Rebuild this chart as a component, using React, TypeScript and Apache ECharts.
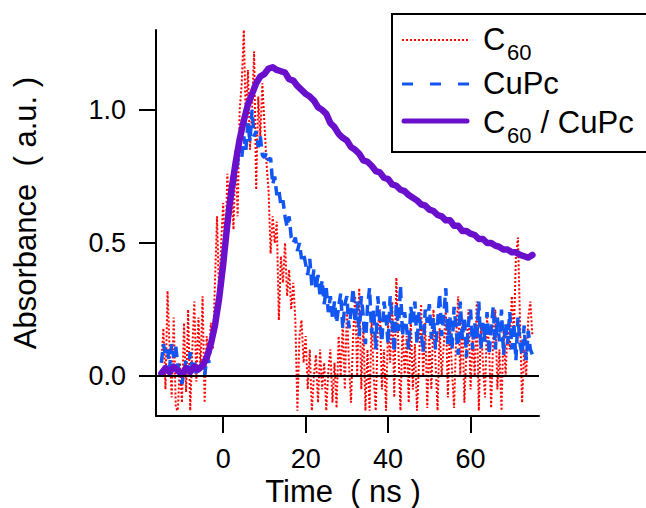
import React, { useEffect, useRef } from "react";
import * as echarts from "echarts";

// time axis sampling (ns)
const timeStart = -15;
const fastStep = 0.5;
const slowStep = 1;

// C60 (red dotted), sampled every 0.5 ns from -15 ns
const c60Values = [
  0.05, 0.18, -0.05, 0.32, 0.1, -0.08, 0.22, -0.12, -0.13, 0.05,
  -0.1, 0.2, -0.06, 0.25, -0.13, 0.1, 0.28, -0.02, 0.22, 0.02,
  0.3, -0.1, 0.15, 0.05, 0.2, 0.1, 0.35, 0.6, 0.3, 0.5,
  0.65, 0.45, 0.76, 0.62, 0.72, 0.55, 0.85, 0.6, 1.0, 1.1,
  1.3, 0.95, 1.15, 0.85, 1.0, 1.22, 0.7, 1.05, 0.9, 1.1,
  0.95, 0.8, 0.7, 0.46, 0.6, 0.5, 0.58, 0.21, 0.45, 0.35,
  0.5, 0.3, 0.4, 0.25, 0.35, 0.21, -0.13, 0.15, 0.21, 0.05,
  0.15, -0.05, 0.1, -0.13, 0.0, 0.08, -0.1, 0.1, -0.05, 0.05,
  -0.13, 0.02, 0.1, -0.1, 0.05, -0.12, 0.15, 0.0, 0.2, -0.05,
  0.25, 0.05, -0.1, 0.15, 0.3, 0.0, 0.33, -0.05, 0.2, -0.13,
  0.1, -0.13, 0.22, 0.0, -0.13, 0.18, 0.25, -0.05, 0.1, -0.13,
  0.2, 0.05, 0.28, -0.08, 0.37, 0.1, -0.13, 0.2, 0.0, 0.15,
  -0.1, 0.22, -0.05, 0.12, -0.13, 0.05, 0.27, 0.0, 0.2, -0.12,
  0.15, -0.05, 0.25, 0.05, -0.13, 0.18, 0.0, 0.12, 0.25, -0.08,
  0.2, 0.02, -0.12, 0.15, 0.3, 0.0, 0.22, -0.1, 0.1, 0.25,
  -0.05, 0.15, 0.0, 0.28, -0.13, 0.2, 0.05, -0.08, 0.22, 0.1,
  -0.12, 0.15, 0.25, -0.05, 0.1, -0.13, 0.18, 0.0, 0.2, 0.1,
  0.3, 0.15, 0.45, 0.52, 0.2, -0.1, 0.1, 0.0, 0.22, 0.28,
  0.15,
];

// CuPc (blue dashed), sampled every 0.5 ns from -15 ns
const cupcValues = [
  0.05, 0.12, 0.08, 0.1, 0.03, 0.12, 0.07, 0.11, 0.04, 0.0,
  -0.03, 0.02, 0.06, 0.02, 0.09, 0.03, 0.06, 0.0, 0.04, 0.02,
  0.05, 0.0, 0.07, 0.05, 0.12, 0.16, 0.2, 0.25, 0.3, 0.36,
  0.42, 0.5, 0.55, 0.6, 0.66, 0.7, 0.76, 0.8, 0.86, 0.82,
  0.9, 0.85, 0.95, 0.88, 1.0, 0.9, 0.92, 0.86, 0.9, 0.83,
  0.82, 0.84, 0.81, 0.82, 0.72, 0.75, 0.68, 0.7, 0.64, 0.66,
  0.6, 0.56, 0.6, 0.52, 0.5, 0.52, 0.47, 0.5, 0.44, 0.46,
  0.42, 0.38, 0.44, 0.34, 0.4, 0.33, 0.38, 0.3, 0.36, 0.27,
  0.33, 0.24, 0.3, 0.22, 0.28, 0.2, 0.26, 0.31, 0.18, 0.27,
  0.3, 0.18, 0.24, 0.33, 0.2, 0.28, 0.15, 0.3, 0.22, 0.12,
  0.26, 0.33, 0.16, 0.25, 0.1, 0.3, 0.2, 0.13, 0.28, 0.22,
  0.12, 0.3, 0.2, 0.09, 0.27, 0.17, 0.34, 0.15, 0.24, 0.18,
  0.1, 0.26, 0.2, 0.28, 0.12, 0.24, 0.17, 0.09, 0.25, 0.2,
  0.27, 0.14, 0.22, 0.1, 0.2, 0.31, 0.15, 0.23, 0.33, 0.12,
  0.22, 0.1, 0.26, 0.18, 0.08, 0.28, 0.14, 0.22, 0.07, 0.2,
  0.25, 0.1, 0.2, 0.14, 0.28, 0.1, 0.2, 0.13, 0.24, 0.08,
  0.18, 0.26, 0.1, 0.22, 0.13, 0.25, 0.08, 0.2, 0.12, 0.24,
  0.1, 0.2, 0.06, 0.22, 0.12, 0.08, 0.19, 0.06, 0.17, 0.1,
  0.08,
];

// C60 / CuPc (purple solid), sampled every 1 ns from -15 ns
const blendValues = [
  0.01, 0.03, 0.015, 0.035, 0.02, 0.005, 0.03, 0.015, 0.035, 0.025,
  0.04, 0.07, 0.12, 0.19, 0.29, 0.42, 0.57, 0.7, 0.8, 0.89,
  0.96, 1.02, 1.06, 1.1, 1.125, 1.135, 1.155, 1.16, 1.15, 1.145,
  1.14, 1.115, 1.11, 1.09, 1.075, 1.06, 1.05, 1.035, 1.01, 1.0,
  0.985, 0.95, 0.935, 0.91, 0.895, 0.885, 0.86, 0.85, 0.835, 0.81,
  0.805, 0.79, 0.77, 0.765, 0.745, 0.74, 0.72, 0.715, 0.7, 0.695,
  0.68, 0.67, 0.66, 0.645, 0.64, 0.625, 0.62, 0.605, 0.6, 0.585,
  0.585, 0.565, 0.565, 0.545, 0.545, 0.535, 0.53, 0.515, 0.515, 0.5,
  0.5, 0.49, 0.485, 0.475, 0.475, 0.465, 0.465, 0.455, 0.45, 0.445,
  0.455,
];

const xTickValues = [0, 20, 40, 60];
const yTickValues = [0, 0.5, 1.0];

const RED = "#ff0000";
const BLUE = "#1155f2";
const PURPLE = "#6a0fcc";

export default function App() {
  const ref = useRef<HTMLDivElement>(null);
  useEffect(() => {
    const chart = echarts.init(ref.current!, null, { renderer: "svg" });
    const font = "'Liberation Sans', Arial, Helvetica, sans-serif";
    const toPairs = (vals: number[], step: number) =>
      vals.map((v, i) => [timeStart + i * step, v]);

    const txt = (text: string, x: number, y: number, size: number) => ({
      type: "text",
      x,
      y,
      z: 100,
      style: {
        text,
        fontSize: size,
        fontFamily: font,
        fill: "#000",
        textAlign: "left",
        textVerticalAlign: "middle",
      },
    });

    chart.setOption({
      animation: false,
      backgroundColor: "#fff",
      grid: { left: 156, right: 107, top: 30, bottom: 92 },
      xAxis: {
        type: "value",
        min: -16.3,
        max: 76.6,
        axisLine: { show: true, onZero: false, lineStyle: { color: "#000", width: 2 } },
        axisTick: {
          show: true,
          inside: false,
          length: 17,
          customValues: xTickValues,
          lineStyle: { color: "#000", width: 2 },
        },
        axisLabel: {
          customValues: xTickValues,
          margin: 29,
          fontSize: 27,
          fontFamily: font,
          color: "#000",
        },
        splitLine: { show: false },
      },
      yAxis: {
        type: "value",
        min: -0.15,
        max: 1.3,
        axisLine: { show: true, onZero: false, lineStyle: { color: "#000", width: 2 } },
        axisTick: {
          show: true,
          inside: false,
          length: 17,
          customValues: yTickValues,
          lineStyle: { color: "#000", width: 2 },
        },
        axisLabel: {
          customValues: yTickValues,
          margin: 30,
          fontSize: 27,
          fontFamily: font,
          color: "#000",
          formatter: (v: number) => v.toFixed(1),
        },
        splitLine: { show: false },
      },
      series: [
        {
          name: "C60",
          type: "line",
          data: toPairs(c60Values, fastStep),
          showSymbol: false,
          symbol: "none",
          lineStyle: { color: RED, width: 2, type: [2, 2] },
          z: 2,
        },
        {
          name: "CuPc",
          type: "line",
          data: toPairs(cupcValues, fastStep),
          showSymbol: false,
          symbol: "none",
          lineStyle: { color: BLUE, width: 3.5, type: [11, 6] },
          z: 3,
        },
        {
          name: "C60 / CuPc",
          type: "line",
          data: toPairs(blendValues, slowStep),
          showSymbol: false,
          symbol: "none",
          lineStyle: { color: PURPLE, width: 6.5, cap: "round", join: "round" },
          z: 4,
          markLine: {
            silent: true,
            symbol: "none",
            label: { show: false },
            lineStyle: { color: "#000", width: 2, type: "solid" },
            data: [{ yAxis: 0 }],
          },
        },
      ],
      graphic: [
        {
          type: "rect",
          z: 90,
          shape: { x: 392, y: 14, width: 300, height: 138 },
          style: { fill: "#fff", stroke: "#000", lineWidth: 2 },
        },
        {
          type: "line",
          z: 95,
          shape: { x1: 402, y1: 40, x2: 469, y2: 40 },
          style: { stroke: RED, lineWidth: 2, lineDash: [2, 2] },
        },
        {
          type: "line",
          z: 95,
          shape: { x1: 402, y1: 84, x2: 469, y2: 84 },
          style: { stroke: BLUE, lineWidth: 3, lineDash: [11, 17] },
        },
        {
          type: "line",
          z: 95,
          shape: { x1: 404, y1: 121, x2: 467, y2: 121 },
          style: { stroke: PURPLE, lineWidth: 5, lineCap: "round" },
        },
        txt("C", 483, 39, 31),
        txt("60", 507, 52, 22),
        txt("CuPc", 483, 83, 31),
        txt("C", 483, 122, 31),
        txt("60", 507, 135, 22),
        txt(" / CuPc", 532, 122, 31),
        {
          type: "text",
          x: 343,
          y: 491,
          z: 100,
          style: {
            text: "Time  ( ns )",
            fontSize: 31,
            fontFamily: font,
            fill: "#000",
            textAlign: "center",
            textVerticalAlign: "middle",
          },
        },
        {
          type: "text",
          x: 25,
          y: 213,
          z: 100,
          rotation: Math.PI / 2,
          style: {
            text: "Absorbance  ( a.u. )",
            fontSize: 31,
            fontFamily: font,
            fill: "#000",
            textAlign: "center",
            textVerticalAlign: "middle",
          },
        },
      ],
    });
    return () => chart.dispose();
  }, []);
  return (
    <div
      ref={ref}
      style={{ position: "fixed", left: 0, top: 0, width: 646, height: 508 }}
    />
  );
}
